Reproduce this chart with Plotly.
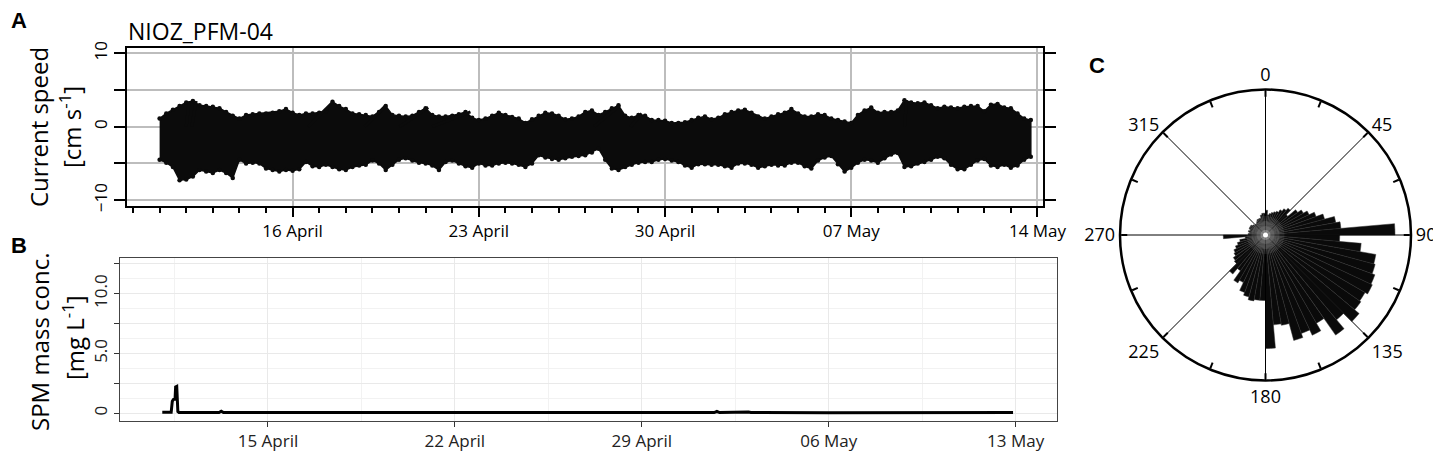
import numpy as np
import pandas as pd
import plotly.graph_objects as go

FONT = "Open Sans"
W, H = 1441, 455
OFF = 8  # the page places the figure 8 px in from the window corner

# === A: current sticks, 6-hourly envelope of the stick tips (cm s-1) ===
stick_start = "2021-04-11 00:00"
north_max = [
    1.1, 1.8, 2.3, 2.8, 3.3, 3.5, 2.9, 2.8, 2.7, 2.5, 2.0, 1.5, 1.1, 1.6, 1.7, 1.8, 1.8,
    1.9, 2.1, 2.4, 1.9, 1.6, 1.8, 1.8, 1.9, 2.1, 3.4, 2.8, 2.4, 1.8, 1.7, 1.6, 1.4,
    2.0, 2.8, 1.6, 1.5, 1.4, 1.5, 2.0, 2.5, 1.6, 1.4, 1.4, 1.5, 1.7, 2.0, 1.2, 0.9,
    1.1, 1.5, 1.9, 1.6, 1.3, 1.1, 0.5, 1.0, 1.5, 1.9, 1.8, 1.5, 1.0, 1.1, 1.4, 2.0, 2.2,
    1.6, 2.0, 2.5, 2.9, 1.5, 1.2, 1.6, 1.5, 0.9, 0.9, 0.8, 0.5, 0.5, 0.6, 0.9, 1.2,
    1.4, 1.0, 1.2, 1.7, 2.0, 2.2, 2.3, 1.9, 1.4, 1.1, 1.4, 1.7, 1.9, 2.4, 1.8, 1.4, 1.4,
    1.7, 1.6, 1.1, 0.9, 0.7, 0.5, 1.6, 2.2, 2.6, 1.9, 2.0, 2.0, 2.2, 3.6, 3.3, 3.2,
    3.3, 2.9, 2.5, 2.7, 2.6, 2.5, 2.7, 2.8, 2.8, 2.1, 3.0, 3.1, 2.6, 2.5, 1.8, 1.1, 0.9,
]
north_min = [
    -4.5, -4.9, -5.5, -7.3, -7.2, -6.8, -5.9, -6.1, -6.3, -5.9, -6.3, -7.0, -4.5, -5.0,
    -4.9, -5.0, -5.7, -5.9, -6.1, -5.9, -6.0, -5.8, -4.8, -5.4, -5.5, -5.2, -5.5, -5.8,
    -5.9, -5.5, -5.3, -5.2, -4.6,
    -5.0, -5.9, -5.2, -4.5, -4.3, -4.6, -4.9, -5.0, -5.3, -5.9, -4.8, -4.6, -5.0, -5.4,
    -5.6, -5.0, -5.3, -5.3, -5.0, -4.9, -5.0, -5.2, -5.5, -5.0, -3.9, -4.2, -4.4, -4.5,
    -4.3, -4.1, -4.0, -3.9, -3.5,
    -3.0, -4.5, -5.7, -5.9, -5.5, -5.2, -4.9, -4.8, -4.8, -4.5, -4.4, -4.6, -4.8, -5.3,
    -5.6, -5.1, -5.1, -5.2, -5.2, -5.4, -5.6, -5.0, -5.0, -5.2, -5.6, -5.4, -5.2, -5.3,
    -5.3, -4.9, -4.9, -5.4, -5.7,
    -4.6, -4.2, -4.0, -5.1, -6.1, -5.6, -4.9, -4.5, -4.6, -4.9, -4.3, -3.8, -3.6, -5.5,
    -5.4, -5.0, -4.8, -4.5, -4.1, -4.3, -5.2, -5.8, -5.8, -5.2, -4.6, -4.4, -5.3, -5.5,
    -5.2, -5.6, -5.3, -4.5, -4.1,
]
# a few individual sticks that stand out above the band
lean_time = ["2021-04-12 00:00", "2021-04-12 05:00", "2021-04-16 14:00", "2021-04-18 17:00",
             "2021-04-20 00:30", "2021-04-21 06:00", "2021-04-27 08:00", "2021-04-28 17:00",
             "2021-05-09 00:00"]
lean_east = [0.4, 0.6, 3.4, 2.8, 3.9, 5.2, 3.5, 1.5, 0.3]
lean_north = [3.4, 3.5, 3.4, 2.8, 2.6, 2.0, 2.9, 1.8, 3.6]

a_ticks = ["2021-04-16", "2021-04-23", "2021-04-30", "2021-05-07", "2021-05-14"]

# === B: SPM mass concentration (mg L-1) ===
spm_time = ["2021-04-11 01:00", "2021-04-11 09:00", "2021-04-11 10:00", "2021-04-11 11:00",
            "2021-04-11 12:30", "2021-04-11 13:00", "2021-04-11 14:00", "2021-04-11 15:00",
            "2021-04-11 16:00", "2021-04-12 12:00", "2021-04-13 04:00", "2021-04-13 06:00",
            "2021-04-13 08:00", "2021-04-16 00:00", "2021-04-20 00:00", "2021-04-25 00:00",
            "2021-05-01 17:00", "2021-05-01 19:30", "2021-05-01 22:00", "2021-05-03 00:00",
            "2021-05-03 02:00", "2021-05-06 00:00", "2021-05-09 14:00", "2021-05-12 21:40"]
spm_val = [0.08, 0.08, 1.0, 1.15, 1.2, 2.2, 2.25, 0.15, 0.07, 0.06, 0.07, 0.18,
           0.07, 0.06, 0.06, 0.05, 0.06, 0.15, 0.06, 0.1, 0.06, 0.05, 0.08, 0.06]
b_ticks = ["2021-04-15", "2021-04-22", "2021-04-29", "2021-05-06", "2021-05-13"]

# === C: direction rose, 5 degree bins (fraction of outer circle) ===
rose_dir = np.arange(2.5, 360, 5)
rose_freq = [
    0.17, 0.14, 0.15, 0.16, 0.17, 0.18, 0.20, 0.22, 0.24, 0.20, 0.27, 0.30,
    0.33, 0.37, 0.42, 0.49, 0.52, 0.89, 0.51, 0.66, 0.77, 0.78, 0.80, 0.81,
    0.79, 0.80, 0.84, 0.76, 0.84, 0.70, 0.76, 0.72, 0.75, 0.63, 0.62, 0.78,
    0.45, 0.45, 0.46, 0.44, 0.42, 0.36, 0.38, 0.30, 0.35, 0.28, 0.27, 0.25,
    0.24, 0.22, 0.20, 0.18, 0.14, 0.29, 0.12, 0.11, 0.12, 0.11, 0.12, 0.12,
    0.12, 0.11, 0.10, 0.10, 0.10, 0.11, 0.12, 0.12, 0.12, 0.14, 0.15, 0.15,
]
rose_labels = ["0", "45", "90", "135", "180", "225", "270", "315"]


def px_x(p):
    return (p - OFF) / W


def px_y(p):
    return 1 - (p - OFF) / H


fig = go.Figure()

# A: band of sticks, tips drawn as small dots
t_a = pd.date_range(stick_start, periods=len(north_max), freq="6h")
fig.add_trace(go.Scatter(
    x=list(t_a) + list(t_a[::-1]),
    y=north_max + north_min[::-1],
    fill="toself", fillcolor="#0b0b0b", mode="lines+markers",
    line=dict(color="#0b0b0b", width=1.5), marker=dict(size=4.5, color="#0b0b0b"),
    xaxis="x", yaxis="y", hoverinfo="skip",
))
day_per_cm = 0.276  # isotropic stick scaling on the time axis
sx, sy = [], []
for t, u, v in zip(pd.to_datetime(lean_time), lean_east, lean_north):
    sx += [t, t + pd.Timedelta(days=u * day_per_cm), None]
    sy += [0, v, None]
fig.add_trace(go.Scatter(x=sx, y=sy, mode="lines", line=dict(color="#0b0b0b", width=3),
                         xaxis="x", yaxis="y", hoverinfo="skip"))

# B: SPM line
fig.add_trace(go.Scatter(x=pd.to_datetime(spm_time), y=spm_val, mode="lines",
                         line=dict(color="black", width=3), xaxis="x2", yaxis="y2"))

# C: rose
for a in range(0, 360, 45):
    fig.add_trace(go.Scatterpolar(r=[0, 1], theta=[a, a], mode="lines",
                                  line=dict(color="black", width=1), hoverinfo="skip"))
fig.add_trace(go.Barpolar(r=rose_freq, theta=rose_dir, width=5,
                          marker=dict(color="#0a0a0a", line=dict(color="#2e2e2e", width=0.5))))
fig.add_trace(go.Scatterpolar(
    r=[0] * 5, theta=[0] * 5, mode="markers", hoverinfo="skip",
    marker=dict(size=[38, 28, 18, 10, 5], color="white",
                opacity=[0.08, 0.1, 0.12, 0.25, 1.0], line=dict(width=0)),
))

ang_vals = [i * 22.5 for i in range(16)]
ang_text = [rose_labels[i // 2] if i % 2 == 0 else "" for i in range(16)]

fig.update_layout(
    width=W, height=H, margin=dict(l=0, r=0, t=0, b=0, autoexpand=False),
    paper_bgcolor="white", plot_bgcolor="white", showlegend=False,
    font=dict(family=FONT, color="black"),
    xaxis=dict(
        domain=[px_x(127), px_x(1043)], anchor="y", type="date", automargin=False,
        range=["2021-04-09 18:35", "2021-05-14 05:00"],
        tickvals=a_ticks, tickformat="%d %B", tickfont=dict(size=17),
        ticks="outside", ticklen=9, tickwidth=1.5, tickcolor="black",
        minor=dict(dtick=86400000, tick0="2021-04-10", ticks="outside", ticklen=5,
                   tickwidth=1.5, tickcolor="black", showgrid=False),
        showgrid=True, gridcolor="#bdbdbd", gridwidth=1.5,
        showline=True, linecolor="black", linewidth=1.8, mirror=True, zeroline=False,
    ),
    yaxis=dict(
        domain=[px_y(206), px_y(47.7)], anchor="x", range=[-10.8, 10.75], automargin=False,
        tickvals=[-10, -5, 0, 5, 10], ticktext=["\u221210", "", "0", "", "10"],
        tickangle=-90, tickfont=dict(size=17),
        ticks="outside", ticklen=11, tickwidth=1.5, tickcolor="black",
        showgrid=True, gridcolor="#bdbdbd", gridwidth=1.5,
        showline=True, linecolor="black", linewidth=1.8, mirror="ticks", zeroline=False,
    ),
    xaxis2=dict(
        domain=[px_x(120), px_x(1057)], anchor="y2", type="date", automargin=False,
        range=["2021-04-09 11:00", "2021-05-14 13:10"],
        tickvals=b_ticks, tickformat="%d %B", tickfont=dict(size=17, color="#222"),
        ticks="outside", ticklen=5, tickwidth=1.2, tickcolor="#333",
        minor=dict(dtick=3.5 * 86400000, tick0="2021-04-11 12:00", showgrid=True,
                   gridcolor="#f2f2f2", gridwidth=1),
        showgrid=True, gridcolor="#e9e9e9", gridwidth=1.3,
        showline=True, linecolor="#444", linewidth=1.3, mirror=True, zeroline=False,
    ),
    yaxis2=dict(
        domain=[px_y(420.7), px_y(257.7)], anchor="x2", range=[-0.62, 13.0], automargin=False,
        tickvals=[0, 2.5, 5, 7.5, 10, 12.5], ticktext=["0", "", "5.0", "", "10.0", ""],
        tickangle=-90, tickfont=dict(size=17, color="#222"),
        ticks="outside", ticklen=5, tickwidth=1.2, tickcolor="#333",
        minor=dict(dtick=1.25, tick0=0, showgrid=True, gridcolor="#f2f2f2", gridwidth=1),
        showgrid=True, gridcolor="#e9e9e9", gridwidth=1.3,
        showline=True, linecolor="#444", linewidth=1.3, mirror=True, zeroline=False,
    ),
    polar=dict(
        domain=dict(x=[px_x(1120), px_x(1411)], y=[px_y(381), px_y(89)]),
        bgcolor="white",
        radialaxis=dict(visible=False, range=[0, 1]),
        angularaxis=dict(
            rotation=90, direction="clockwise", tickvals=ang_vals, ticktext=ang_text,
            ticks="inside", ticklen=6, tickwidth=1.5, tickcolor="black",
            showgrid=False, showline=True, linecolor="black", linewidth=2.5,
            tickfont=dict(size=18, color="black"),
        ),
    ),
)

ann = [
    dict(text="<b>A</b>", x=px_x(9), y=px_y(20), xanchor="left", font=dict(size=22, family="Liberation Sans")),
    dict(text="<b>B</b>", x=px_x(9), y=px_y(245), xanchor="left", font=dict(size=22, family="Liberation Sans")),
    dict(text="<b>C</b>", x=px_x(1087), y=px_y(65), xanchor="left", font=dict(size=22, family="Liberation Sans")),
    dict(text="NIOZ_PFM-04", x=px_x(126), y=px_y(31), xanchor="left", font=dict(size=23)),
    dict(text="Current speed", x=px_x(39), y=px_y(127), xanchor="center", textangle=-90, font=dict(size=24)),
    dict(text="[cm s<sup>-1</sup>]", x=px_x(71), y=px_y(127), xanchor="center", textangle=-90, font=dict(size=24)),
    dict(text="SPM mass conc.", x=px_x(39), y=px_y(342), xanchor="center", textangle=-90, font=dict(size=24)),
    dict(text="[mg L<sup>-1</sup>]", x=px_x(73), y=px_y(338), xanchor="center", textangle=-90, font=dict(size=24)),
]
for a in ann:
    fig.add_annotation(xref="paper", yref="paper", showarrow=False, yanchor="middle", **a)

fig.write_html("out.html")
